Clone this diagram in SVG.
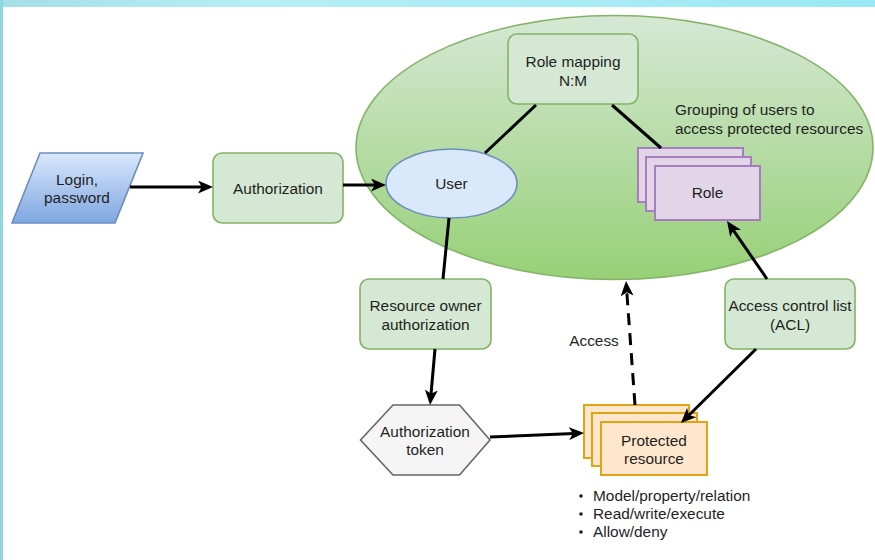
<svg xmlns="http://www.w3.org/2000/svg" width="875" height="560" viewBox="0 0 875 560">
<style>
text{font-family:"Liberation Sans",Arial,sans-serif;font-size:15.4px;fill:#1f1f1f;text-anchor:middle;dominant-baseline:central}
.g{fill:#d5e8d4;stroke:#82b366;stroke-width:1.6}
.role{fill:#e1d5e7;stroke:#a77cc0;stroke-width:2}
.pr{fill:#ffe6cc;stroke:#e0a514;stroke-width:2}
.c{stroke:#000;stroke-width:3;fill:none}
.a{marker-end:url(#arr)}
.l{text-anchor:start}
</style>
<defs>
<linearGradient id="bg" x1="0" y1="0" x2="1" y2="0"><stop offset="0" stop-color="#a4dfe8"/><stop offset="0.3" stop-color="#b6eff6"/><stop offset="1" stop-color="#9ae8f4"/></linearGradient>
<linearGradient id="eg" x1="0" y1="0" x2="0" y2="1"><stop offset="0" stop-color="#d5e8d4"/><stop offset="1" stop-color="#97d077"/></linearGradient>
<linearGradient id="pg" x1="0" y1="0" x2="0" y2="1"><stop offset="0" stop-color="#dae8fc"/><stop offset="1" stop-color="#7ea6e0"/></linearGradient>
<marker id="arr" markerUnits="userSpaceOnUse" markerWidth="15" markerHeight="13" viewBox="0 0 15 13" refX="11" refY="6.5" orient="auto"><path d="M0,0 L15,6.5 L0,13 L3.8,6.5 Z" fill="#000"/></marker>
</defs>
<rect x="0" y="0" width="875" height="560" fill="#fff"/>
<rect x="0" y="0" width="875" height="7" fill="url(#bg)"/>
<rect x="0" y="0" width="3" height="560" fill="#8fd6df"/>

<g id="domain"><ellipse cx="614.5" cy="147.5" rx="258.5" ry="132" fill="url(#eg)" stroke="#82b366" stroke-width="1.6"/></g>

<g id="login"><polygon points="40,153 143,153 115,223 12,223" fill="url(#pg)" stroke="#6c8ebf" stroke-width="1.6"/><text x="77" y="179">Login,</text><text x="77" y="197">password</text></g>
<g id="authorization"><rect class="g" x="213" y="153" width="130" height="70" rx="9"/><text x="278" y="188">Authorization</text></g>
<g id="user"><ellipse cx="451.5" cy="183.5" rx="65.5" ry="34.5" fill="#dae8fc" stroke="#6c8ebf" stroke-width="1.6"/><text x="451.5" y="183.5">User</text></g>
<g id="role-mapping"><rect class="g" x="508" y="34" width="130" height="70" rx="9"/><text x="573" y="61">Role mapping</text><text x="573" y="80">N:M</text></g>
<g id="grouping-note"><text class="l" x="675" y="109">Grouping of users to</text><text class="l" x="675" y="128">access protected resources</text></g>
<g id="role"><rect class="role" x="638" y="148" width="105" height="54"/><rect class="role" x="646" y="157" width="105" height="54"/><rect class="role" x="655" y="166" width="105" height="54"/><text x="707.5" y="192">Role</text></g>
<g id="resource-owner"><rect class="g" x="360" y="279" width="131" height="70" rx="9"/><text x="425.5" y="305">Resource owner</text><text x="425.5" y="324">authorization</text></g>
<g id="acl"><rect class="g" x="725" y="279" width="130" height="70" rx="9"/><text x="790" y="305">Access control list</text><text x="790" y="324">(ACL)</text></g>
<g id="token"><polygon points="360.5,440 393,405 459.5,405 490,440 459.5,475 393,475" fill="#f5f5f5" stroke="#666" stroke-width="1.6"/><text x="425" y="431">Authorization</text><text x="425" y="449">token</text></g>
<g id="protected-resource"><rect class="pr" x="584" y="405" width="105" height="53"/><rect class="pr" x="592" y="413" width="105" height="53"/><rect class="pr" x="601" y="422" width="106" height="53"/><text x="654" y="440">Protected</text><text x="654" y="458">resource</text></g>
<g id="resource-notes"><circle cx="581" cy="496" r="1.8" fill="#1f1f1f"/><circle cx="581" cy="514" r="1.8" fill="#1f1f1f"/><circle cx="581" cy="532" r="1.8" fill="#1f1f1f"/><text class="l" x="593" y="495.5">Model/property/relation</text><text class="l" x="593" y="513.5">Read/write/execute</text><text class="l" x="593" y="531.5">Allow/deny</text></g>

<g id="connectors">
<line class="c" x1="536" y1="105" x2="485" y2="153"/>
<line class="c" x1="612" y1="105" x2="661" y2="148"/>
<line class="c a" x1="130" y1="187" x2="209" y2="187"/>
<line class="c a" x1="343" y1="185" x2="382" y2="185"/>
<line class="c" x1="449" y1="218" x2="443" y2="279"/>
<line class="c a" x1="435" y1="349" x2="430.4" y2="401"/>
<line class="c a" x1="490" y1="437" x2="580" y2="433.2"/>
<line class="c a" x1="635" y1="405" x2="626.3" y2="285" stroke-dasharray="12 8"/>
<line class="c a" x1="767" y1="279" x2="729.3" y2="224.3"/>
<line class="c a" x1="756" y1="349" x2="683.8" y2="420.2"/>
<text x="594" y="340">Access</text>
</g>
</svg>
